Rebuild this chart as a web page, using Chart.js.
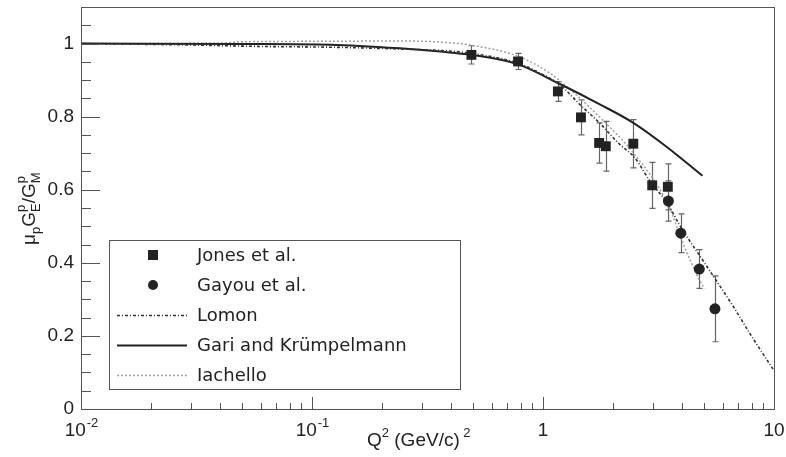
<!DOCTYPE html>
<html>
<head>
<meta charset="utf-8">
<script src="https://cdn.jsdelivr.net/npm/chart.js@4/dist/chart.umd.min.js"></script>
<style>
  html, body { margin: 0; padding: 0; background: #fff; }
  canvas { display: block; }
</style>
</head>
<body>
<canvas id="c" width="786" height="457"></canvas>
<script>
// Jones et al. (squares)
const jonesQ2 = [0.49, 0.78, 1.16, 1.46, 1.75, 1.87, 2.46, 2.97, 3.47]
const jonesRatio = [0.969, 0.951, 0.869, 0.798, 0.728, 0.719, 0.726, 0.612, 0.608]
const jonesErr = [0.025, 0.022, 0.027, 0.048, 0.055, 0.068, 0.066, 0.063, 0.063]

// Gayou et al. (circles)
const gayouQ2 = [3.49, 3.95, 4.75, 5.55]
const gayouRatio = [0.569, 0.481, 0.383, 0.274]
const gayouErr = [0.055, 0.053, 0.053, 0.09]

// model curves
const lomonQ2 = [0.01, 0.03, 0.06, 0.12, 0.24, 0.36, 0.48, 0.78, 1.0, 1.18, 1.44, 1.78, 2.14, 2.5, 2.9, 3.47, 3.88, 5.2, 6.7, 8.0, 10]
const lomonRatio = [1.0, 0.996, 0.992, 0.99, 0.985, 0.981, 0.974, 0.946, 0.915, 0.888, 0.834, 0.779, 0.725, 0.687, 0.624, 0.561, 0.506, 0.384, 0.278, 0.199, 0.105]

const gariQ2 = [0.01, 0.05, 0.12, 0.24, 0.36, 0.49, 0.78, 1.16, 1.77, 2.46, 3.47, 4.9]
const gariRatio = [1.0, 0.999, 0.997, 0.987, 0.978, 0.969, 0.943, 0.892, 0.833, 0.783, 0.715, 0.638]

const iachelloQ2 = [0.01, 0.04, 0.05, 0.1, 0.24, 0.36, 0.48, 0.78, 1.07, 1.34, 1.77, 2.46, 3.47, 4.0, 4.77, 5.0]
const iachelloRatio = [1.0, 1.001, 1.005, 1.006, 1.007, 1.004, 0.996, 0.965, 0.919, 0.869, 0.797, 0.701, 0.561, 0.46, 0.351, 0.33]

// axes
const xTicks = [0.01, 0.1, 1, 10]
const xTickBase = ['10', '10', '1', '10']
const xTickExp = ['-2', '-1', '', '']
const yTicks = [0, 0.2, 0.4, 0.6, 0.8, 1]
const yTickLabels = ['0', '0.2', '0.4', '0.6', '0.8', '1']

const AXIS_FONT = '"Liberation Sans", Arial, sans-serif'
const LEGEND_FONT = '"DejaVu Sans", Verdana, sans-serif'
const INK = '#222'

const pts = (xs, ys) => xs.map((x, i) => ({ x, y: ys[i] }))

const datasets = [
  {
    label: 'Jones et al.', data: pts(jonesQ2, jonesRatio), errors: jonesErr,
    showLine: false, pointStyle: 'rect', pointRadius: 7, backgroundColor: INK, borderColor: INK, borderWidth: 0
  },
  {
    label: 'Gayou et al.', data: pts(gayouQ2, gayouRatio), errors: gayouErr,
    showLine: false, pointStyle: 'circle', pointRadius: 5.5, backgroundColor: INK, borderColor: INK, borderWidth: 0
  },
  {
    label: 'Lomon', data: pts(lomonQ2, lomonRatio),
    borderColor: '#333', borderWidth: 1.6, borderDash: [3, 2, 1, 2], pointRadius: 0, cubicInterpolationMode: 'monotone'
  },
  {
    label: 'Gari and Krümpelmann', data: pts(gariQ2, gariRatio),
    borderColor: INK, borderWidth: 2, pointRadius: 0, cubicInterpolationMode: 'monotone'
  },
  {
    label: 'Iachello', data: pts(iachelloQ2, iachelloRatio),
    borderColor: '#a0a0a0', borderWidth: 1.5, borderDash: [2, 2], pointRadius: 0, cubicInterpolationMode: 'monotone'
  }
]

// ROOT-style frame with inward ticks
const framePlugin = {
  id: 'frame',
  afterDraw(chart) {
    const { ctx, chartArea: a, scales: { x, y } } = chart
    ctx.save()
    ctx.strokeStyle = '#555'
    ctx.lineWidth = 1
    ctx.strokeRect(a.left + 0.5, a.top + 0.5, a.right - a.left, a.bottom - a.top)
    ctx.beginPath()
    for (let v = 0; v <= 1.1001; v += 0.05) {
      const py = Math.round(y.getPixelForValue(v)) + 0.5
      const major = Math.abs(v / 0.2 - Math.round(v / 0.2)) < 1e-6
      ctx.moveTo(a.left, py)
      ctx.lineTo(a.left + (major ? 19 : 10), py)
    }
    xTicks.forEach((d, i) => {
      const px = Math.round(x.getPixelForValue(d)) + 0.5
      ctx.moveTo(px, a.bottom)
      ctx.lineTo(px, a.bottom - 12)
      if (i < xTicks.length - 1) {
        for (let k = 2; k <= 9; k++) {
          const mx = Math.round(x.getPixelForValue(d * k)) + 0.5
          ctx.moveTo(mx, a.bottom)
          ctx.lineTo(mx, a.bottom - 6)
        }
      }
    })
    ctx.stroke()

    // x tick labels with superscripts
    ctx.fillStyle = INK
    ctx.textBaseline = 'alphabetic'
    xTicks.forEach((v, i) => {
      const px = x.getPixelForValue(v)
      ctx.font = '19px ' + AXIS_FONT
      const wb = ctx.measureText(xTickBase[i]).width
      ctx.font = '13px ' + AXIS_FONT
      const we = xTickExp[i] ? ctx.measureText(xTickExp[i]).width : 0
      const x0 = px - (wb + we) / 2
      ctx.font = '19px ' + AXIS_FONT
      ctx.fillText(xTickBase[i], x0, a.bottom + 27)
      if (we) {
        ctx.font = '13px ' + AXIS_FONT
        ctx.fillText(xTickExp[i], x0 + wb + 1, a.bottom + 18)
      }
    })
    ctx.restore()
  }
}

// error bars under the markers
const errorBarPlugin = {
  id: 'errorBars',
  beforeDatasetsDraw(chart) {
    const { ctx, chartArea: a } = chart
    ctx.save()
    ctx.beginPath()
    ctx.rect(a.left, a.top, a.right - a.left, a.bottom - a.top)
    ctx.clip()
    ctx.strokeStyle = '#666'
    ctx.lineWidth = 1.2
    chart.data.datasets.forEach(ds => {
      if (!ds.errors) return
      ds.data.forEach((p, i) => {
        const px = Math.round(chart.scales.x.getPixelForValue(p.x)) + 0.5
        const top = chart.scales.y.getPixelForValue(p.y + ds.errors[i])
        const bot = chart.scales.y.getPixelForValue(p.y - ds.errors[i])
        ctx.beginPath()
        ctx.moveTo(px, top); ctx.lineTo(px, bot)
        ctx.moveTo(px - 3, top); ctx.lineTo(px + 3, top)
        ctx.moveTo(px - 3, bot); ctx.lineTo(px + 3, bot)
        ctx.stroke()
      })
    })
    ctx.restore()
  }
}

// boxed legend inside the plot
const legendPlugin = {
  id: 'boxLegend',
  afterDraw(chart) {
    const { ctx } = chart
    const bx = 109, by = 240, bw = 351, bh = 149, row = 30
    ctx.save()
    ctx.fillStyle = '#fff'
    ctx.fillRect(bx, by, bw, bh)
    ctx.strokeStyle = '#555'
    ctx.lineWidth = 1
    ctx.strokeRect(bx + 0.5, by + 0.5, bw, bh)
    chart.data.datasets.forEach((ds, i) => {
      const cy = by + 15 + i * row
      if (ds.showLine === false) {
        ctx.fillStyle = ds.backgroundColor
        if (ds.pointStyle === 'rect') {
          ctx.fillRect(148, cy - 5, 10, 10)
        } else {
          ctx.beginPath()
          ctx.arc(153, cy, 5, 0, Math.PI * 2)
          ctx.fill()
        }
      } else {
        ctx.strokeStyle = ds.borderColor
        ctx.lineWidth = ds.borderWidth
        ctx.setLineDash(ds.borderDash || [])
        ctx.beginPath()
        ctx.moveTo(117, cy + 0.5)
        ctx.lineTo(187, cy + 0.5)
        ctx.stroke()
        ctx.setLineDash([])
      }
      ctx.fillStyle = INK
      ctx.font = '18px ' + LEGEND_FONT
      ctx.textBaseline = 'middle'
      ctx.fillText(ds.label, 197, cy + 1)
    })
    ctx.restore()
  }
}

// axis titles with sub/superscripts
function drawRich(ctx, parts, x, y) {
  let cx = x
  parts.forEach(p => {
    if (p.stack) {
      let w = 0
      p.stack.forEach(s => {
        ctx.font = s.size + 'px ' + AXIS_FONT
        ctx.fillText(s.t, cx, y + s.dy)
        w = Math.max(w, ctx.measureText(s.t).width)
      })
      cx += w
    } else {
      ctx.font = p.size + 'px ' + AXIS_FONT
      ctx.fillText(p.t, cx, y + (p.dy || 0))
      cx += ctx.measureText(p.t).width
    }
  })
}

const titlePlugin = {
  id: 'titles',
  afterDraw(chart) {
    const { ctx } = chart
    ctx.save()
    ctx.fillStyle = INK
    ctx.textBaseline = 'alphabetic'
    drawRich(ctx, [
      { t: 'Q', size: 19 }, { t: '2', size: 13, dy: -9 },
      { t: ' (GeV/c)', size: 19 }, { t: ' 2', size: 13, dy: -9 }
    ], 367, 446)
    ctx.translate(35, 245)
    ctx.rotate(-Math.PI / 2)
    drawRich(ctx, [
      { t: 'μ', size: 19 }, { t: 'p', size: 13, dy: 5 },
      { t: 'G', size: 19 },
      { stack: [{ t: 'E', size: 13, dy: 5 }, { t: 'p', size: 13, dy: -10 }] },
      { t: '/', size: 19 },
      { t: 'G', size: 19 },
      { stack: [{ t: 'M', size: 13, dy: 5 }, { t: 'p', size: 13, dy: -10 }] }
    ], 0, 0)
    ctx.restore()
  }
}

new Chart(document.getElementById('c'), {
  type: 'line',
  data: { datasets },
  options: {
    responsive: false,
    animation: false,
    layout: { padding: { top: 4, right: 12, left: 0, bottom: 0 } },
    plugins: { legend: { display: false }, tooltip: { enabled: false } },
    scales: {
      x: {
        type: 'logarithmic',
        min: 0.01,
        max: 10,
        grid: { display: false, drawTicks: false },
        border: { display: false },
        ticks: { display: false },
        afterBuildTicks: s => { s.ticks = xTicks.map(v => ({ value: v })) },
        afterFit: s => { s.height = 48; s.paddingLeft = 0; s.paddingRight = 0 }
      },
      y: {
        min: 0,
        max: 1.1,
        grid: { display: false, drawTicks: false },
        border: { display: false },
        ticks: {
          color: INK,
          padding: 7,
          font: { family: AXIS_FONT, size: 19 },
          callback: (v, i) => yTickLabels[i]
        },
        afterBuildTicks: s => { s.ticks = yTicks.map(v => ({ value: v })) },
        afterFit: s => { s.width = 81; s.paddingTop = 0; s.paddingBottom = 0 }
      }
    }
  },
  plugins: [errorBarPlugin, framePlugin, legendPlugin, titlePlugin]
})
</script>
</body>
</html>
